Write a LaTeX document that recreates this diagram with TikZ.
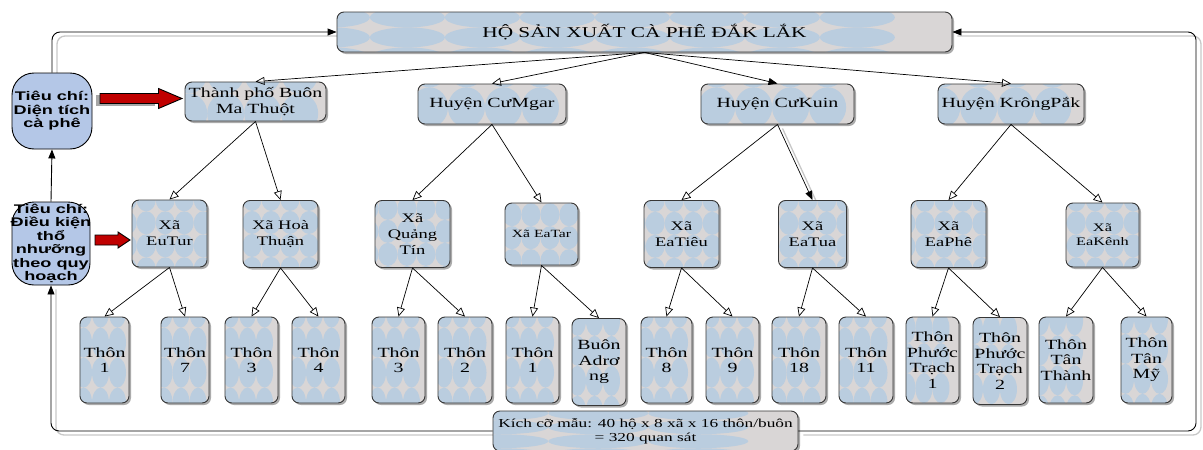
\documentclass[tikz,border=0pt]{standalone}
\usepackage{fontspec}
\newfontfamily\boxfont[FakeStretch=1.42]{Liberation Serif}
\newfontfamily\critfont[FakeStretch=1.45]{Liberation Sans}
\usetikzlibrary{arrows.meta,shadows}
\pgfdeclarelayer{bg}
\pgfsetlayers{bg,main}
\definecolor{tileblue}{RGB}{186,205,223}
\definecolor{tilegray}{RGB}{217,214,214}
\definecolor{critblue}{RGB}{180,199,231}
\definecolor{arrowred}{RGB}{192,0,0}
\definecolor{edgegray}{RGB}{55,55,55}
\tikzset{
  % light-blue ellipses tiled over a grey ground
  tiles/.style n args={4}{path picture={
    \begin{scope}[shift={(path picture bounding box.center)}]
      \foreach \i in {-#3,...,#3}
        \foreach \j in {-#4,...,#4}
          \fill[tileblue] (\i*#1,\j*#2) ellipse ({0.5*#1} and {0.5*#2});
    \end{scope}}},
  tbox/.style={draw=edgegray, line width=0.9pt, rounded corners=7pt, fill=tilegray,
    align=center, inner sep=1pt, text=black,
    drop shadow={shadow xshift=2pt, shadow yshift=-2pt, opacity=0.55, fill=black!60}},
  titlebox/.style={tbox, minimum width=615, minimum height=40, tiles={75}{20}{5}{2},
    font=\boxfont\fontsize{15}{17}\selectfont},
  distbox/.style={tbox, minimum height=40, tiles={37}{40}{3}{1},
    font=\boxfont\fontsize{14}{16}\selectfont},
  communebox/.style={tbox, minimum width=75, minimum height=67, tiles={19}{23}{3}{2},
    font=\boxfont\fontsize{13}{16}\selectfont},
  villagebox/.style={tbox, minimum width=53, minimum height=86, tiles={17}{30}{2}{2},
    inner sep=0pt, font=\boxfont\fontsize{14}{15.5}\selectfont},
  kichbox/.style={tbox, minimum width=305, minimum height=40, tiles={100}{14}{2}{2},
    font=\boxfont\fontsize{12.2}{14}\selectfont},
  critbox/.style={draw=black, line width=0.9pt, fill=critblue, rounded corners=22pt,
    align=center, inner sep=0pt, font=\critfont\bfseries\fontsize{12.5}{13.5}\selectfont},
  treearrow/.style={draw=black, line width=0.7pt, -{Triangle[open, length=9pt, width=8pt]}},
  treefill/.style={draw=black, line width=0.7pt, -{Triangle[length=9pt, width=7pt]}},
  loopline/.style={draw=black, line width=0.9pt, rounded corners=8pt, -{Triangle[length=9pt, width=7pt]}},
  loopshadow/.style={draw=black!22, line width=1.3pt, rounded corners=8pt,
    transform canvas={xshift=5pt, yshift=-4pt}},
  redarrow/.style={fill=arrowred, draw=black, line width=0.9pt, line join=miter},
}
\newcommand\zl[1]{\makebox[0pt]{#1}}
\begin{document}
\begin{tikzpicture}[x=1pt, y=-1pt]
\useasboundingbox (0,0) rectangle (1203,450);
\clip (0,0) rectangle (1203,450);

% top level
\node[titlebox] (top) at (644.5,32) {HỘ SẢN XUẤT CÀ PHÊ ĐẮK LẮK};

% districts
\node[distbox, minimum width=141, minimum height=39] (d1) at (255.5,101.5) {Thành phố Buôn\\Ma Thuột};
\node[distbox, minimum width=148] (d2) at (492,104) {Huyện CưMgar};
\node[distbox, minimum width=153] (d3) at (777.5,104) {Huyện CưKuin};
\node[distbox, minimum width=146] (d4) at (1011,104) {Huyện KrôngPắk};

% communes
\node[communebox] (c1) at (169.5,233.5) {Xã\\EuTur};
\node[communebox] (c2) at (280.5,234) {Xã Hoà\\Thuận};
\node[communebox] (c3) at (412.5,234) {Xã\\Quảng\\Tín};
\node[communebox, minimum width=73, minimum height=62,
  font=\boxfont\fontsize{11}{13}\selectfont] (c4) at (541.5,234) {Xã EaTar};
\node[communebox] (c5) at (681.5,234) {Xã\\EaTiêu};
\node[communebox, minimum width=68] (c6) at (812.5,234) {Xã\\EaTua};
\node[communebox] (c7) at (948.5,234) {Xã\\EaPhê};
\node[communebox, minimum width=73, minimum height=64,
  font=\boxfont\fontsize{11.5}{14}\selectfont] (c8) at (1102.5,235) {Xã\\EaKênh};

% villages
\node[villagebox, minimum width=49] (v1) at (104.5,360) {Thôn\\1};
\node[villagebox, minimum width=48] (v2) at (185,360) {Thôn\\7};
\node[villagebox] (v3) at (251.5,360) {Thôn\\3};
\node[villagebox] (v4) at (318.5,360) {Thôn\\4};
\node[villagebox] (v5) at (398.5,360) {Thôn\\3};
\node[villagebox, minimum width=54] (v6) at (465,360) {Thôn\\2};
\node[villagebox] (v7) at (532.5,360) {Thôn\\1};
\node[villagebox, minimum width=54, minimum height=87] (v8) at (599,362) {Buôn\\Adrơ\\ng};
\node[villagebox, minimum width=51] (v9) at (666.5,360) {Thôn\\8};
\node[villagebox] (v10) at (732.5,360) {Thôn\\9};
\node[villagebox, minimum width=54] (v11) at (799,360) {Thôn\\18};
\node[villagebox, minimum width=54] (v12) at (866,360) {Thôn\\11};
\node[villagebox] (v13) at (932.5,360) {Thôn\\Phước\\Trạch\\1};
\node[villagebox, minimum width=54, minimum height=87] (v14) at (1000,361) {Thôn\\Phước\\Trạch\\2};
\node[villagebox, minimum width=54] (v15) at (1066,360) {Thôn\\Tân\\Thành};
\node[villagebox, minimum width=51] (v16) at (1146.5,360) {Thôn\\Tân\\Mỹ};

% sample size
\node[kichbox] (kich) at (645.5,431) {Kích cỡ mẫu: 40 hộ x 8 xã x 16 thôn/buôn\\= 320 quan sát};

% criteria
\node[critbox, minimum width=80, minimum height=76] (tc1) at (52,111)
  {\zl{Tiêu chí:}\\\zl{Diện tích}\\\zl{cà phê}};
\node[critbox, minimum width=78, minimum height=83] (tc2) at (51,243.5)
  {\zl{Tiêu chí:}\\\zl{Điều kiện}\\\zl{thổ}\\\zl{nhưỡng}\\\zl{theo quy}\\\zl{hoạch}};

% feedback loop round the tree
\coordinate (rc) at (1196,32);
\begin{pgfonlayer}{bg}
  \draw[loopshadow] (tc1.north) |- (top.west);
  \draw[loopshadow] (kich.west) -| (tc2.south);
  \draw[loopshadow] (kich.east) -| (rc) -- (top.east);
  \draw[loopshadow] (d3.south) -- (c6.north);
\end{pgfonlayer}
\draw[loopline] (tc1.north) |- (top.west);
\draw[loopline] (kich.west) -| (tc2.south);
\draw[loopline] (kich.east) -| (rc) -- (top.east);
\draw[loopline] (tc2.north) -- (tc1.south);

% block arrows from the criteria
\fill[black!35] (96,94.5) -- (155,94.5) -- (155,106) -- (96,106) -- cycle;
\filldraw[redarrow] (100,93.5) -- (158.5,93.5) -- (158.5,88.5) -- (182,98.5)
  -- (158.5,108.5) -- (158.5,103.5) -- (100,103.5) -- cycle;
\filldraw[redarrow] (95,235) -- (118,235) -- (118,232) -- (130,240)
  -- (118,248) -- (118,245) -- (95,245) -- cycle;

% tree connectors
\draw[treearrow] (top.south) -- (d1.north);
\draw[treearrow] (top.south) -- (d2.north);
\draw[treefill]  (top.south) -- (d3.north);
\draw[treearrow] (top.south) -- (d4.north);

\draw[treearrow] (d1.south) -- (c1.north);
\draw[treearrow] (d1.south) -- (c2.north);
\draw[treearrow] (d2.south) -- (c3.north);
\draw[treearrow] (d2.south) -- (c4.north);
\draw[treearrow] (d3.south) -- (c5.north);
\draw[treefill]  (d3.south) -- (c6.north);
\draw[treearrow] (d4.south) -- (c7.north);
\draw[treearrow] (d4.south) -- (c8.north);

\draw[treearrow] (c1.south) -- (v1.north);
\draw[treearrow] (c1.south) -- (v2.north);
\draw[treearrow] (c2.south) -- (v3.north);
\draw[treearrow] (c2.south) -- (v4.north);
\draw[treearrow] (c3.south) -- (v5.north);
\draw[treearrow] (c3.south) -- (v6.north);
\draw[treearrow] (c4.south) -- (v7.north);
\draw[treearrow] (c4.south) -- (v8.north);
\draw[treearrow] (c5.south) -- (v9.north);
\draw[treearrow] (c5.south) -- (v10.north);
\draw[treearrow] (c6.south) -- (v11.north);
\draw[treearrow] (c6.south) -- (v12.north);
\draw[treearrow] (c7.south) -- (v13.north);
\draw[treearrow] (c7.south) -- (v14.north);
\draw[treearrow] (c8.south) -- (v15.north);
\draw[treearrow] (c8.south) -- (v16.north);
\end{tikzpicture}
\end{document}
